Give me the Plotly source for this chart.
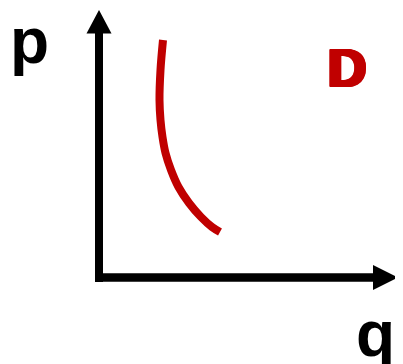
import plotly.graph_objects as go

# Demand curve D (quantity q, price p), in axis units (origin at axes corner)
q_values = [64, 61.5, 60.5, 61.5, 63.5, 66.5, 72, 79.5, 90, 102, 113, 121]
p_values = [237.5, 207.5, 177.5, 157.5, 140.5, 124.5, 107.5, 90.5, 74.5, 60.5, 50.5, 45.5]
axis_labels = ["q", "p"]
curve_label = "D"

RED = "#C00000"
W, H = 403, 364
PAGE = 8  # default page margin of the html body
X0, Y0 = 99 - PAGE, 277.5 - PAGE  # pixel position of origin inside the figure
xr = [-X0, W - X0]
yr = [Y0 - H, Y0]

fig = go.Figure()
fig.add_trace(go.Scatter(x=q_values, y=p_values, mode="lines",
                         line=dict(color=RED, width=8, shape="spline"),
                         hoverinfo="skip", showlegend=False))

shapes = [
    # y axis line + arrowhead
    dict(type="line", x0=0, y0=-4.5, x1=0, y1=246, line=dict(color="black", width=8)),
    dict(type="path", path="M -12.5 244 L 12.5 244 L 0 267.5 Z", fillcolor="black", line=dict(width=0)),
    # x axis line + arrowhead
    dict(type="line", x0=-4, y0=0, x1=276, y1=0, line=dict(color="black", width=8.5)),
    dict(type="path", path="M 274 -12.5 L 274 12.5 L 299 0 Z", fillcolor="black", line=dict(width=0)),
]
for s in shapes:
    s.update(xref="x", yref="y", layer="above")

FONT = "Liberation Sans, Arial, sans-serif"
heavy = ", ".join([f"{dx}px {dy}px 0 {RED}" for dx in range(0, 5) for dy in (0, 1) if (dx, dy) != (0, 0)])

fig.update_layout(
    width=W, height=H, margin=dict(l=0, r=0, t=0, b=0),
    paper_bgcolor="white", plot_bgcolor="white",
    xaxis=dict(range=xr, visible=False, fixedrange=True),
    yaxis=dict(range=yr, visible=False, fixedrange=True),
    shapes=shapes,
    annotations=[
        dict(x=-70, y=237, text=axis_labels[1], showarrow=False, xanchor="center", yanchor="middle",
             font=dict(family=FONT, size=64, color="black", weight="bold")),
        dict(x=276, y=-56, text=axis_labels[0], showarrow=False, xanchor="center", yanchor="middle",
             font=dict(family=FONT, size=64, color="black", weight="bold")),
        dict(x=246, y=210, text=curve_label, showarrow=False, xanchor="center", yanchor="middle",
             font=dict(family=FONT, size=53, color=RED, weight="bold", shadow=heavy)),
    ],
)
fig.write_html("out.html")
